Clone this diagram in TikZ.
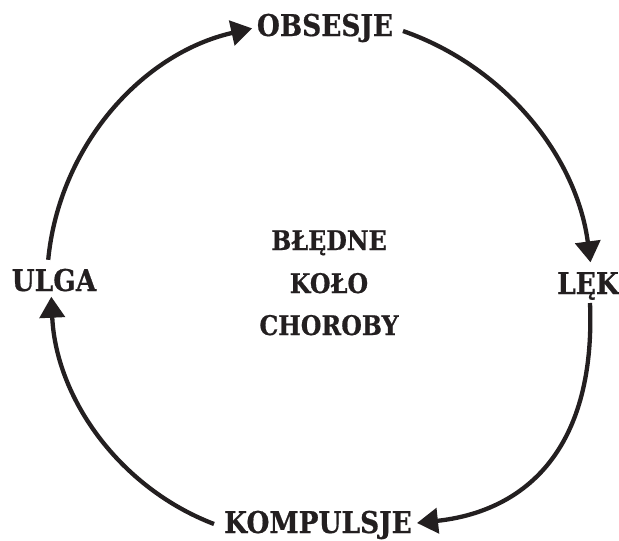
\documentclass[tikz,border=0pt]{standalone}
\usepackage{fontspec}
\setmainfont{DejaVu Serif}
\newfontfamily\lblfont{DejaVu Serif Bold}[FakeStretch=0.88, FakeBold=0.6]
\usetikzlibrary{arrows.meta}
\definecolor{ink}{HTML}{231F20}
\tikzset{
  lab/.style={text=ink, font=\lblfont\fontsize{30}{34}\selectfont, inner sep=0pt, anchor=base},
  mid/.style={text=ink, font=\lblfont\fontsize{27}{42}\selectfont, inner sep=0pt, anchor=base},
  arr/.style={draw=ink, line width=4.3pt, -{Triangle[length=21pt,width=25pt]}}
}
\begin{document}
\begin{tikzpicture}[x=1pt,y=-1pt]
\useasboundingbox (0,0) rectangle (619,541);
% labels
\node[lab] (obs) at (325,36) {OBSESJE};
\node[lab] (lek) at (588,294) {LĘK};
\node[lab] (kom) at (318,533) {KOMPULSJE};
\node[lab] (ulga) at (54,291) {ULGA};
\node[mid] (c1) at (329,250) {BŁĘDNE};
\node[mid] (c2) at (329,293) {KOŁO};
\node[mid] (c3) at (329,335) {CHOROBY};
% arc end points
\coordinate (tlS) at (48.2,259.8);
\coordinate (tlE) at (252.2,28.4);
\coordinate (trS) at (403,31);
\coordinate (trE) at (590.5,262.4);
\coordinate (brS) at (590,303);
\coordinate (brE) at (417,523);
\coordinate (blS) at (214,524);
\coordinate (blE) at (51.3,296.7);
% connectors
\draw[arr] (tlS) .. controls (59.1,146.7) and (141.4,53.4) .. (tlE);
\draw[arr] (trS) .. controls (504.7,66.4) and (576.5,156.1) .. (trE);
\draw[arr] (brS) .. controls (596,455) and (520,512) .. (brE);
\draw[arr] (blS) .. controls (119.5,487.8) and (55.9,398.2) .. (blE);
\end{tikzpicture}
\end{document}
